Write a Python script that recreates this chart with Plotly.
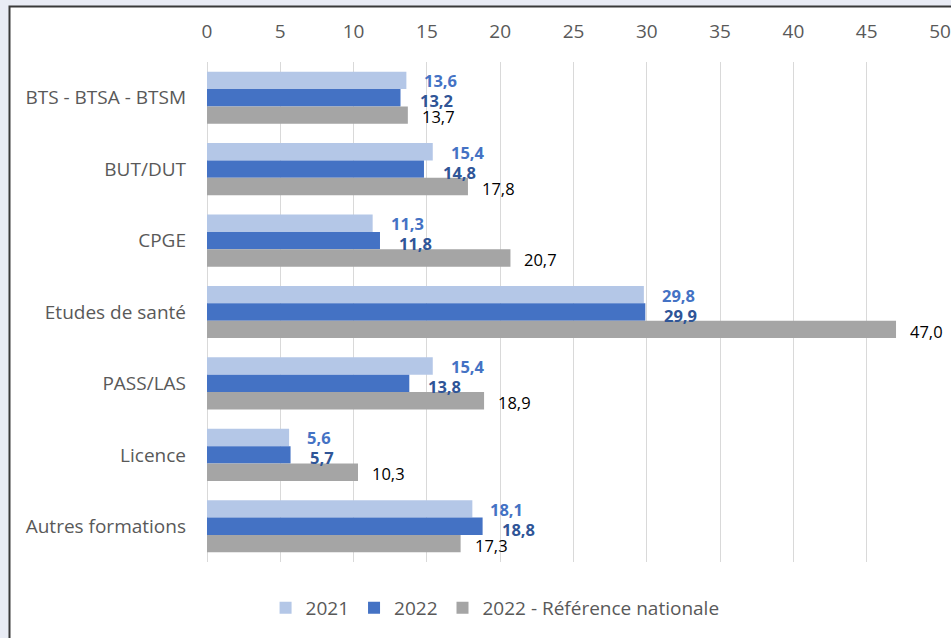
import plotly.graph_objects as go

categories = ["BTS - BTSA - BTSM", "BUT/DUT", "CPGE", "Etudes de santé",
              "PASS/LAS", "Licence", "Autres formations"]
v2021 = [13.6, 15.4, 11.3, 29.8, 15.4, 5.6, 18.1]
v2022 = [13.2, 14.8, 11.8, 29.9, 13.8, 5.7, 18.8]
vref = [13.7, 17.8, 20.7, 47.0, 18.9, 10.3, 17.3]
series_names = ["2021", "2022", "2022 - Référence nationale"]
x_ticks = list(range(0, 51, 5))

colors = ["#B4C7E7", "#4472C4", "#A5A5A5"]
label_colors = ["#4472C4", "#2F5597", "#000000"]
label_bold = [True, True, False]
yshifts = [17, -3, -19]
xshifts = [16, 17, 12]

FONT = "Open Sans"
BG = "#E9ECF5"
fig = go.Figure()
all_vals = [v2021, v2022, vref]
for name, vals, c in zip(series_names, all_vals, colors):
    fig.add_trace(go.Bar(y=categories, x=vals, name=name, orientation="h",
                         marker=dict(color=c, line=dict(width=0))))

annotations = []
for vals, lc, b, ys, xs in zip(all_vals, label_colors, label_bold, yshifts, xshifts):
    for cat, v in zip(categories, vals):
        txt = f"{v:.1f}".replace(".", ",")
        if b:
            txt = f"<b>{txt}</b>"
        annotations.append(dict(x=v, y=cat, xref="x", yref="y", text=txt,
                                showarrow=False, xanchor="left", yanchor="middle",
                                xshift=xs, yshift=ys,
                                font=dict(family=FONT, size=16.5, color=lc)))

fig.update_layout(
    width=951, height=638,
    margin=dict(l=207, r=11, t=62, b=76, autoexpand=False),
    paper_bgcolor=BG,
    plot_bgcolor="rgba(0,0,0,0)",
    barmode="group", bargap=0.27, bargroupgap=0,
    font=dict(family=FONT, size=19, color="#595959"),
    annotations=annotations,
    showlegend=True,
    legend=dict(orientation="h", x=0.393, xanchor="center", y=-0.092, yanchor="middle",
                font=dict(family=FONT, size=19, color="#595959"), traceorder="normal",
                bgcolor="rgba(0,0,0,0)"),
    shapes=[dict(type="rect", xref="paper", yref="paper",
                 x0=(9.5 - 207) / 733, x1=1.2, y0=-0.3, y1=(562 - 6.5) / 500,
                 fillcolor="white", line=dict(color="#3A3A3A", width=2), layer="below")],
)
fig.update_xaxes(side="top", range=[0, 50], tickvals=x_ticks, ticktext=[str(t) for t in x_ticks],
                 showgrid=True, gridcolor="#D9D9D9", gridwidth=1, zeroline=True,
                 zerolinecolor="#D9D9D9", zerolinewidth=1, showline=False,
                 ticks="", ticklabelstandoff=19, automargin=False,
                 tickfont=dict(family=FONT, size=19, color="#595959"))
fig.update_yaxes(autorange="reversed", showgrid=False, showline=False, ticks="",
                 ticklabelstandoff=20, automargin=False,
                 tickfont=dict(family=FONT, size=19, color="#595959"))

fig.write_html("out.html",
               config={"displayModeBar": False},
               post_script="document.body.style.margin='0';"
                           "document.body.style.overflow='hidden';"
                           "document.body.style.background='" + BG + "';")
